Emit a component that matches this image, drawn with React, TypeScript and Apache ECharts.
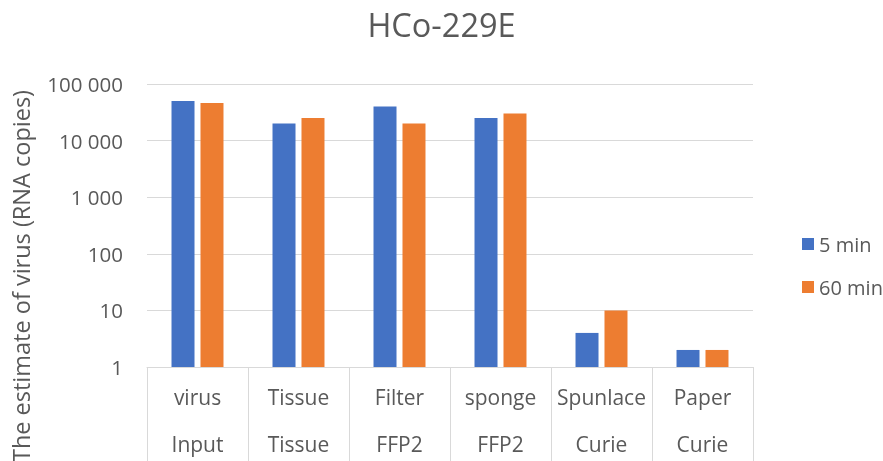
import React, { useEffect, useRef } from "react";
import * as echarts from "echarts";

const topLabels = ["virus", "Tissue", "Filter", "sponge", "Spunlace", "Paper"];
const bottomLabels = ["Input", "Tissue", "FFP2", "FFP2", "Curie", "Curie"];
const seriesNames = ["5 min", "60 min"];
const values5 = [50000, 20000, 40000, 25000, 4, 2];
const values60 = [46000, 25000, 20000, 30000, 10, 2];
const titleText = "HCo-229E";
const yAxisTitle = "The estimate of virus (RNA copies)";

const FONT = "'Open Sans', sans-serif";
const TEXT = "#595959";
const GRID = "#d9d9d9";

export default function App() {
  const ref = useRef<HTMLDivElement>(null);
  useEffect(() => {
    if (!ref.current) return;
    const chart = echarts.init(ref.current, null, { renderer: "svg" });
    chart.setOption({
      animation: false,
      textStyle: { fontFamily: FONT },
      title: {
        text: titleText,
        left: "center",
        top: 8,
        padding: 0,
        textStyle: { fontFamily: FONT, fontSize: 32.5, fontWeight: "normal", color: TEXT },
      },
      legend: {
        orient: "vertical",
        left: 797,
        top: 229,
        itemWidth: 12,
        itemHeight: 12,
        itemGap: 23,
        icon: "rect",
        data: seriesNames,
        textStyle: { fontFamily: FONT, fontSize: 20, color: TEXT },
      },
      grid: { left: 147, right: 130, top: 84, bottom: 94, outerBoundsMode: "none" },
      xAxis: {
        type: "category",
        data: topLabels,
        axisLine: { lineStyle: { color: GRID, width: 1 } },
        axisTick: { show: true, length: 94, interval: 0, lineStyle: { color: GRID } },
        axisLabel: {
          interval: 0,
          margin: 6,
          lineHeight: 47,
          fontFamily: FONT,
          fontSize: 21,
          color: TEXT,
          formatter: (v: string, i: number) => `${topLabels[i]}\n${bottomLabels[i]}`,
        },
      },
      yAxis: {
        type: "log",
        logBase: 10,
        min: 1,
        max: 100000,
        axisLine: { show: false },
        axisTick: { show: false },
        splitLine: { lineStyle: { color: GRID, width: 1 } },
        axisLabel: {
          margin: 24,
          fontFamily: FONT,
          fontSize: 20.5,
          color: TEXT,
          formatter: (v: number) =>
            String(Math.round(v)).replace(/\B(?=(\d{3})+(?!\d))/g, " "),
        },
      },
      graphic: [
        {
          type: "text",
          x: 21,
          y: 276,
          rotation: Math.PI / 2,
          style: {
            text: yAxisTitle,
            fontFamily: FONT,
            fontSize: 23.5,
            fill: TEXT,
            align: "center",
            verticalAlign: "middle",
          },
        },
      ],
      series: [
        {
          name: seriesNames[0],
          type: "bar",
          data: values5,
          barWidth: 23,
          barGap: "26%",
          itemStyle: { color: "#4472C4" },
        },
        {
          name: seriesNames[1],
          type: "bar",
          data: values60,
          barWidth: 23,
          barGap: "26%",
          itemStyle: { color: "#ED7D31" },
        },
      ],
    });
    return () => chart.dispose();
  }, []);
  return (
    <div
      ref={ref}
      style={{ position: "fixed", left: 0, top: 0, width: 883, height: 461 }}
    />
  );
}
